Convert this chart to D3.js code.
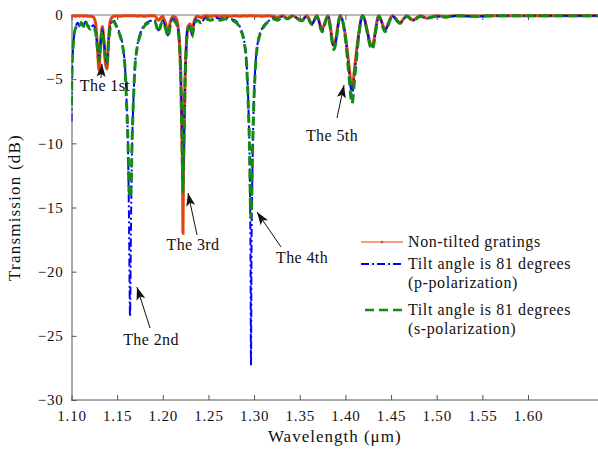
<!DOCTYPE html>
<html><head><meta charset="utf-8">
<script src="https://cdn.jsdelivr.net/npm/d3@7"></script>
<style>
html,body{margin:0;padding:0;background:#fff;}
svg{display:block;}
text{font-family:"Liberation Serif","Times New Roman",serif;fill:#111;}
</style></head>
<body><svg id="chart" width="598" height="450"></svg>
<script>
const wavelength = [1.1000,1.1005,1.1016,1.1031,1.1047,1.1068,1.1089,1.1110,1.1132,1.1153,
  1.1174,1.1205,1.1237,1.1263,1.1284,1.1301,1.1316,1.1337,1.1353,1.1372,
  1.1389,1.1405,1.1427,1.1458,1.1498,1.1531,1.1564,1.1586,1.1602,1.1619,
  1.1630,1.1641,1.1652,1.1663,1.1679,1.1695,1.1718,1.1751,1.1795,1.1850,
  1.1911,1.1953,1.1996,1.2032,1.2057,1.2080,1.2111,1.2143,1.2169,1.2185,
  1.2198,1.2208,1.2217,1.2221,1.2225,1.2234,1.2244,1.2257,1.2275,1.2301,
  1.2320,1.2343,1.2375,1.2417,1.2470,1.2522,1.2575,1.2628,1.2680,1.2733,
  1.2786,1.2849,1.2891,1.2918,1.2939,1.2952,1.2961,1.2966,1.2971,1.2982,
  1.2994,1.3016,1.3044,1.3091,1.3155,1.3207,1.3260,1.3313,1.3365,1.3418,
  1.3523,1.3576,1.3634,1.3687,1.3744,1.3808,1.3875,1.3945,1.3998,1.4040,
  1.4072,1.4103,1.4145,1.4187,1.4292,1.4366,1.4434,1.4514,1.4598,1.4672,
  1.4740,1.4819,1.4893,1.4998,1.5104,1.5209,1.5420,1.5631,1.5841,1.6263,
  1.6800];
const nonTilted = [-0.05,-0.05,-0.05,-0.05,-0.1,-0.05,-0.1,-0.05,-0.1,-0.05,
  -0.1,-0.1,-0.15,-0.6,-2.5,-4.3,-2.5,-0.9,-1.8,-3.8,
  -4.2,-2.0,-0.4,-0.1,-0.05,-0.1,-0.05,-0.05,-0.05,-0.05,
  -0.05,-0.05,-0.05,-0.05,-0.05,-0.05,-0.1,-0.05,-0.1,-0.05,
  -0.05,-0.4,-0.1,-0.7,-1.4,-0.6,-0.1,-0.2,-1.0,-2.5,
  -5.0,-9.0,-13.0,-17.0,-13.0,-9.0,-5.0,-2.5,-0.9,-0.7,
  -1.4,-0.5,-0.1,-0.2,-0.05,-0.1,-0.05,-0.1,-0.05,-0.1,
  -0.05,-0.1,-0.05,-0.1,-0.05,-0.05,-0.05,-0.05,-0.05,-0.05,
  -0.05,-0.1,-0.05,-0.1,-0.05,-0.1,-0.2,-0.05,-0.25,-0.05,
  -0.4,-0.05,-0.7,-0.05,-1.1,-0.05,-2.4,-0.05,-1.5,-4.0,
  -5.8,-4.0,-1.5,-0.05,-2.4,-0.05,-1.1,-0.05,-0.6,-0.05,
  -0.4,-0.05,-0.25,-0.05,-0.15,-0.05,-0.1,-0.05,-0.05,-0.05,
  -0.05];
const tiltP = [-8.3,-5.0,-2.8,-1.5,-0.9,-0.6,-0.9,-0.5,-0.8,-0.5,
  -0.7,-1.0,-0.8,-1.2,-2.4,-3.4,-2.4,-1.1,-1.8,-3.3,
  -3.7,-2.2,-0.8,-0.4,-0.9,-1.5,-2.5,-4.0,-6.5,-10.5,
  -16.0,-23.5,-16.0,-10.5,-6.5,-4.0,-2.5,-1.5,-0.8,-0.5,
  -0.4,-1.2,-0.4,-1.0,-1.6,-0.8,-0.3,-0.5,-1.2,-2.4,
  -5.0,-8.5,-12.0,-13.3,-12.0,-8.5,-5.0,-2.4,-1.0,-0.9,
  -1.6,-0.7,-0.3,-0.6,-0.2,-0.4,-0.2,-0.3,-0.2,-0.3,
  -0.4,-1.0,-2.0,-3.8,-7.5,-12.0,-19.0,-27.3,-19.0,-12.0,
  -7.5,-3.8,-2.0,-1.0,-0.5,-0.2,-0.4,-0.1,-0.3,-0.1,
  -0.4,-0.1,-0.7,-0.1,-1.2,-0.1,-2.6,-0.05,-1.6,-4.3,
  -6.2,-4.3,-1.6,-0.05,-2.6,-0.1,-1.2,-0.1,-0.6,-0.1,
  -0.4,-0.1,-0.25,-0.1,-0.15,-0.05,-0.1,-0.05,-0.05,-0.05,
  -0.05];
const tiltS = [-7.0,-4.5,-2.6,-1.4,-1.0,-0.7,-0.8,-0.6,-0.9,-0.5,
  -0.8,-1.1,-0.9,-1.3,-2.6,-3.6,-2.5,-1.2,-2.0,-3.4,
  -3.8,-2.3,-0.9,-0.5,-1.0,-1.6,-2.6,-4.1,-6.7,-10.0,
  -13.5,-14.2,-13.5,-10.0,-6.5,-4.1,-2.6,-1.6,-0.9,-0.6,
  -0.5,-1.3,-0.5,-1.1,-1.7,-0.9,-0.4,-0.6,-1.3,-2.5,
  -5.2,-8.8,-12.5,-13.8,-12.5,-8.8,-5.2,-2.5,-1.1,-1.0,
  -1.7,-0.8,-0.4,-0.6,-0.3,-0.4,-0.3,-0.4,-0.3,-0.4,
  -0.5,-1.1,-2.1,-3.9,-7.6,-11.0,-15.3,-15.8,-15.3,-11.0,
  -7.6,-3.9,-2.1,-1.1,-0.5,-0.3,-0.4,-0.1,-0.3,-0.1,
  -0.45,-0.1,-0.75,-0.1,-1.3,-0.1,-2.7,-0.05,-1.7,-4.8,
  -6.9,-4.8,-1.7,-0.05,-2.7,-0.1,-1.3,-0.1,-0.65,-0.1,
  -0.45,-0.1,-0.25,-0.1,-0.15,-0.05,-0.1,-0.05,-0.05,-0.05,
  -0.05];

const xTicks = [1.10,1.15,1.20,1.25,1.30,1.35,1.40,1.45,1.50,1.55,1.60];
const xTickLabels = ["1.10","1.15","1.20","1.25","1.30","1.35","1.40","1.45","1.50","1.55","1.60"];
const yTicks = [0,-5,-10,-15,-20,-25,-30];
const yTickLabels = ["0","\u22125","\u221210","\u221215","\u221220","\u221225","\u221230"];

const seriesNames = ["Non-tilted gratings","Tilt angle is 81 degrees","Tilt angle is 81 degrees"];
const seriesSub = ["","(p-polarization)","(s-polarization)"];

// annotations: text, arrow tip (λ,dB), arrow tail (λ,dB), label centre/baseline (λ,dB)
const annText = ["The 1st","The 2nd","The 3rd","The 4th","The 5th"];
const annTip = [[1.1334,-3.8],[1.1717,-21.2],[1.2276,-13.87],[1.3032,-15.35],[1.3985,-5.45]];
const annTail = [[1.1323,-4.9],[1.1860,-24.39],[1.2375,-17.14],[1.3295,-18.08],[1.3908,-8.03]];
const annLabel = [[1.1367,-5.92],[1.1871,-25.71],[1.2331,-18.31],[1.3525,-19.33],[1.3853,-9.82]];

const FONT = "Liberation Serif, Times New Roman, serif";
const svg = d3.select("#chart");
const W = 598, H = 450;
const x = d3.scaleLinear().domain([1.10,1.60]).range([71.5,528]);
const y = d3.scaleLinear().domain([-30,0]).range([400,15]);

const axisCol = "#555";
svg.append("line").attr("x1",x(1.10)).attr("x2",W).attr("y1",y(0)).attr("y2",y(0)).attr("stroke","#777").attr("stroke-width",1);
svg.append("line").attr("x1",x(1.10)).attr("x2",W).attr("y1",y(-30)).attr("y2",y(-30)).attr("stroke",axisCol).attr("stroke-width",1);
const gx = svg.append("g").attr("transform",`translate(0,${y(-30)})`)
  .call(d3.axisBottom(x).tickValues(xTicks).tickFormat((d,i)=>xTickLabels[i]).tickSizeInner(-5).tickSizeOuter(0).tickPadding(10));
const gxt = svg.append("g").attr("transform",`translate(0,${y(0)})`)
  .call(d3.axisTop(x).tickValues(xTicks).tickFormat("").tickSizeInner(-5).tickSizeOuter(0));
const gy = svg.append("g").attr("transform",`translate(${x(1.10)},0)`)
  .call(d3.axisLeft(y).tickValues(yTicks).tickFormat((d,i)=>yTickLabels[i]).tickSizeInner(-5).tickSizeOuter(0).tickPadding(8));
[gx,gxt,gy].forEach(g=>{
  g.attr("font-family",FONT);
  g.select(".domain").attr("stroke",axisCol);
  g.selectAll(".tick line").attr("stroke",axisCol);
  g.selectAll("text").attr("font-family",FONT).attr("font-size",15).attr("letter-spacing",0.8).attr("fill","#111");
});
gx.select(".domain").remove();
gxt.select(".domain").remove();

svg.append("text").attr("x",(x(1.10)+W)/2).attr("y",442).attr("text-anchor","middle").attr("font-family",FONT).attr("font-size",17).attr("letter-spacing",1).text("Wavelength (\u03bcm)");
svg.append("text").attr("transform",`translate(20,${(y(0)+y(-30))/2}) rotate(-90)`).attr("text-anchor","middle").attr("font-family",FONT).attr("font-size",17).attr("letter-spacing",1.2).text("Transmission (dB)");

svg.append("clipPath").attr("id","clip").append("rect").attr("x",x(1.10)).attr("y",y(0)-3).attr("width",W).attr("height",y(-30)-y(0)+3);
const plot = svg.append("g").attr("clip-path","url(#clip)");

const colors = ["#e8400f","#0000ff","#138a13"];
const mk = vals => d3.line().x((d,i)=>x(wavelength[i])).y(d=>y(d)).curve(d3.curveMonotoneX)(vals);
plot.append("path").attr("d",mk(nonTilted)).attr("fill","none").attr("stroke",colors[0]).attr("stroke-width",3);
plot.append("path").attr("d",mk(tiltP)).attr("fill","none").attr("stroke",colors[1]).attr("stroke-width",2).attr("stroke-dasharray","8,3,2,3");
plot.append("path").attr("d",mk(tiltS)).attr("fill","none").attr("stroke",colors[2]).attr("stroke-width",3).attr("stroke-dasharray","9,5");

// annotations
annText.forEach((t,i)=>{
  const tx = x(annTip[i][0]), ty = y(annTip[i][1]);
  const sx = x(annTail[i][0]), sy = y(annTail[i][1]);
  const ang = Math.atan2(ty-sy, tx-sx);
  svg.append("line").attr("x1",sx).attr("y1",sy).attr("x2",tx).attr("y2",ty).attr("stroke","#111").attr("stroke-width",1);
  svg.append("path").attr("d","M0,0 L-13,-4.5 L-10,0 L-13,4.5 Z").attr("fill","#111")
    .attr("transform",`translate(${tx},${ty}) rotate(${ang*180/Math.PI})`);
  svg.append("text").attr("x",x(annLabel[i][0])).attr("y",y(annLabel[i][1])).attr("text-anchor","middle")
    .attr("font-family",FONT).attr("font-size",16).attr("letter-spacing",0.4).text(t);
});

// legend
const lg = svg.append("g");
const lx1 = 361, lx2 = 403, tx0 = 408;
const rows = [242, 264, 310];
lg.append("line").attr("x1",lx1).attr("x2",lx2).attr("y1",rows[0]).attr("y2",rows[0]).attr("stroke",colors[0]).attr("stroke-width",1);
lg.append("circle").attr("cx",(lx1+lx2)/2).attr("cy",rows[0]).attr("r",1.2).attr("fill",colors[0]);
lg.append("line").attr("x1",lx1).attr("x2",lx2).attr("y1",rows[1]).attr("y2",rows[1]).attr("stroke",colors[1]).attr("stroke-width",2).attr("stroke-dasharray","8,3,2,3");
lg.append("line").attr("x1",lx1+4).attr("x2",lx2).attr("y1",rows[2]).attr("y2",rows[2]).attr("stroke",colors[2]).attr("stroke-width",2.5).attr("stroke-dasharray","9,5");
seriesNames.forEach((n,i)=>{
  lg.append("text").attr("x",tx0).attr("y",rows[i]+5).attr("font-family",FONT).attr("font-size",16).attr("letter-spacing",0.6).text(n);
  if(seriesSub[i]) lg.append("text").attr("x",tx0).attr("y",rows[i]+24).attr("font-family",FONT).attr("font-size",16).attr("letter-spacing",0.6).text(seriesSub[i]);
});
</script></body></html>
